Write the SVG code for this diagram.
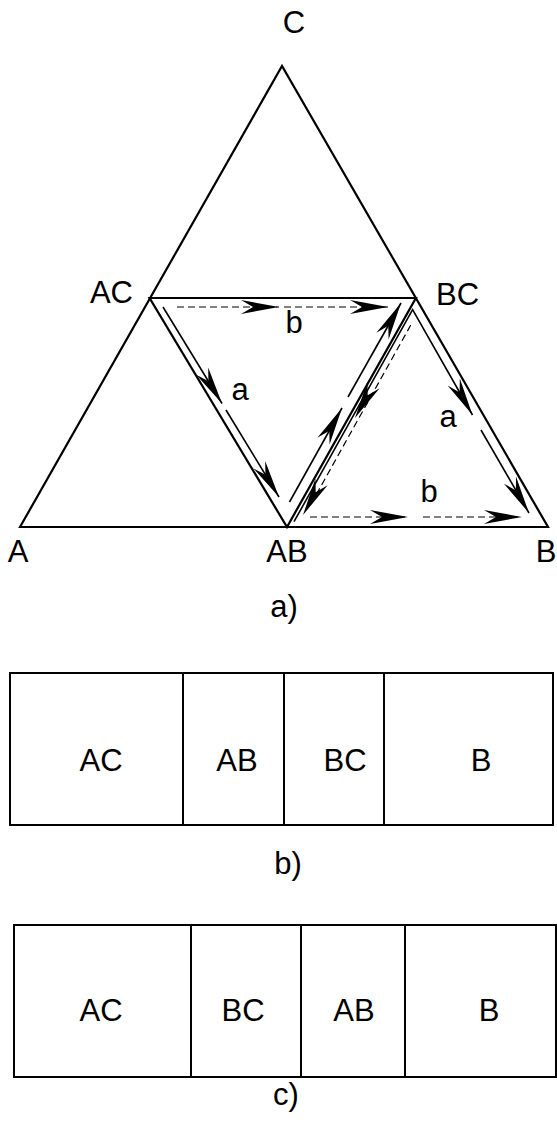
<svg xmlns="http://www.w3.org/2000/svg" xmlns:xlink="http://www.w3.org/1999/xlink" width="557" height="1124" viewBox="0 0 557 1124">
<style>
.edge{fill:none;stroke:#000;stroke-width:2.2;stroke-linejoin:miter}
.path{fill:none;stroke:#000;stroke-width:1.6}
.dash{fill:none;stroke:#000;stroke-width:1.2;stroke-dasharray:7,4}
.box{fill:#fff;stroke:#000;stroke-width:2}
.div{stroke:#000;stroke-width:2}
text{font-family:"Liberation Sans",Arial,sans-serif;font-size:31px;fill:#000}
.mid{text-anchor:middle}
</style>
<defs>
<path id="ah" d="M0,0 L-38,-7 L-26,0 L-38,7 Z" fill="#000"/>
</defs>
<rect width="557" height="1124" fill="#fff"/>

<g id="triangle">
<path class="edge" d="M20,527 L282,66 L548,527 Z"/>
<path class="edge" d="M149.6,298 L415.9,298 L287,527 Z"/>
</g>

<g id="vertex-labels">
<text id="lbl-C" x="294" y="33" class="mid">C</text>
<text id="lbl-AC" x="133" y="303" text-anchor="end">AC</text>
<text id="lbl-BC" x="436" y="305">BC</text>
<text id="lbl-A" x="18" y="562" class="mid">A</text>
<text id="lbl-AB" x="287" y="562" class="mid">AB</text>
<text id="lbl-B" x="546" y="562" class="mid">B</text>
<text id="lbl-a-caption" x="284" y="617" class="mid">a)</text>
</g>

<g id="connectors">
<!-- path b top: AC -> BC -->
<line class="dash" x1="177" y1="307" x2="279" y2="307"/>
<line class="dash" x1="284" y1="307" x2="388" y2="307"/>
<use xlink:href="#ah" transform="translate(279,307)"/>
<use xlink:href="#ah" transform="translate(388,307)"/>
<!-- path a: AC -> AB -->
<line class="path" x1="163" y1="307" x2="222" y2="403.5"/>
<line class="path" x1="226" y1="410" x2="279" y2="497"/>
<use xlink:href="#ah" transform="translate(222,403.5) rotate(58.6)"/>
<use xlink:href="#ah" transform="translate(279,497) rotate(58.6)"/>
<!-- path a: AB -> BC (up) -->
<line class="path" x1="289.5" y1="502" x2="342" y2="408"/>
<line class="path" x1="348" y1="397" x2="401" y2="303"/>
<use xlink:href="#ah" transform="translate(342,408) rotate(-60.8)"/>
<use xlink:href="#ah" transform="translate(401,303) rotate(-60.8)"/>
<!-- solid line right of AB-BC and path a: BC -> B -->
<polyline class="path" points="294,521.7 412.6,309.6 472.5,415"/>
<line class="path" x1="481" y1="430" x2="529" y2="513"/>
<use xlink:href="#ah" transform="translate(472.5,415) rotate(60.4)"/>
<use xlink:href="#ah" transform="translate(529,513) rotate(59.9)"/>
<!-- path b: BC -> AB (down, dashed) -->
<line class="dash" x1="410.8" y1="325" x2="311" y2="504"/>
<use xlink:href="#ah" transform="translate(355,418) rotate(119.2)"/>
<use xlink:href="#ah" transform="translate(303,515) rotate(119.2)"/>
<!-- path b bottom: AB -> B -->
<line class="dash" x1="310" y1="517" x2="408" y2="517"/>
<line class="dash" x1="423" y1="517" x2="522" y2="517"/>
<use xlink:href="#ah" transform="translate(408,517)"/>
<use xlink:href="#ah" transform="translate(522,517)"/>
</g>

<g id="path-labels">
<text x="240" y="400" class="mid">a</text>
<text x="294" y="333" class="mid">b</text>
<text x="448" y="427" class="mid">a</text>
<text x="429" y="502" class="mid">b</text>
</g>

<g id="bar-b">
<rect class="box" x="10" y="673" width="543" height="152"/>
<line class="div" x1="183" y1="673" x2="183" y2="825"/>
<line class="div" x1="284" y1="673" x2="284" y2="825"/>
<line class="div" x1="384" y1="673" x2="384" y2="825"/>
<text x="101" y="771" class="mid">AC</text>
<text x="237" y="771" class="mid">AB</text>
<text x="345" y="771" class="mid">BC</text>
<text x="481" y="771" class="mid">B</text>
<text x="288" y="874" class="mid">b)</text>
</g>

<g id="bar-c">
<rect class="box" x="14" y="925" width="542" height="152"/>
<line class="div" x1="191" y1="925" x2="191" y2="1077"/>
<line class="div" x1="301" y1="925" x2="301" y2="1077"/>
<line class="div" x1="405" y1="925" x2="405" y2="1077"/>
<text x="101" y="1021" class="mid">AC</text>
<text x="243" y="1021" class="mid">BC</text>
<text x="354" y="1021" class="mid">AB</text>
<text x="489" y="1021" class="mid">B</text>
<text x="286" y="1105" class="mid">c)</text>
</g>
</svg>
